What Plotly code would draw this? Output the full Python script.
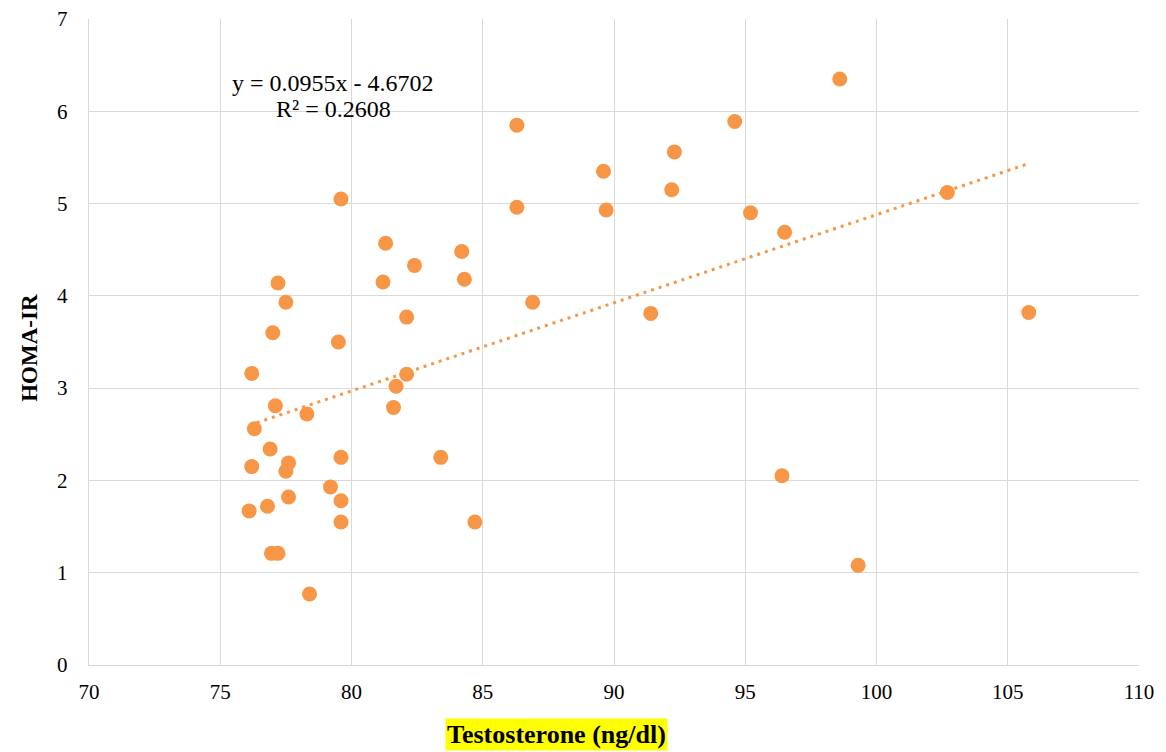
import plotly.graph_objects as go

testosterone = [98.6, 86.3, 94.6, 92.3, 89.6, 92.2, 79.6, 86.3, 89.7, 95.2,
                102.7, 96.5, 81.3, 84.2, 82.4, 81.2, 84.3, 77.2, 77.5, 86.9,
                82.1, 91.4, 105.8, 77.0, 79.5, 76.2, 82.1, 81.7, 77.1, 78.3,
                81.6, 76.3, 76.9, 83.4, 79.6, 77.6, 77.5, 76.2, 96.4, 79.2,
                79.6, 77.6, 76.8, 76.1, 79.6, 84.7, 76.95, 77.2, 99.3, 78.4]
homa_ir = [6.35, 5.85, 5.89, 5.56, 5.35, 5.15, 5.05, 4.96, 4.93, 4.90,
           5.12, 4.69, 4.57, 4.48, 4.33, 4.15, 4.18, 4.14, 3.93, 3.93,
           3.77, 3.81, 3.82, 3.60, 3.50, 3.16, 3.15, 3.02, 2.81, 2.72,
           2.79, 2.56, 2.34, 2.25, 2.25, 2.19, 2.10, 2.15, 2.05, 1.93,
           1.78, 1.82, 1.72, 1.67, 1.55, 1.55, 1.21, 1.21, 1.08, 0.77]

slope = 0.0955
intercept = -4.6702
r_squared = 0.2608

x_ticks = [70, 75, 80, 85, 90, 95, 100, 105, 110]
y_ticks = [0, 1, 2, 3, 4, 5, 6, 7]

orange = "#F79646"
serif = "Liberation Serif, Times New Roman, serif"

x_lo, x_hi = min(testosterone), max(testosterone)
trend_x = [x_lo, x_hi]
trend_y = [slope * v + intercept for v in trend_x]

fig = go.Figure()
fig.add_trace(go.Scatter(
    x=trend_x, y=trend_y, mode="lines",
    line=dict(color=orange, width=3, dash="3px,5px"),
    hoverinfo="skip", showlegend=False,
))
fig.add_trace(go.Scatter(
    x=testosterone, y=homa_ir, mode="markers",
    marker=dict(color=orange, size=15, line=dict(width=0)),
    showlegend=False,
))

fig.add_annotation(
    x=79.3, y=6.31, xref="x", yref="y",
    text=f"y = {slope}x - {abs(intercept):.4f}", showarrow=False,
    font=dict(family=serif, size=24, color="#000000"),
)
fig.add_annotation(
    x=79.3, y=6.02, xref="x", yref="y",
    text=f"R² = {r_squared:.4f}", showarrow=False,
    font=dict(family=serif, size=24, color="#000000"),
)
fig.add_annotation(
    x=0.4448, y=-0.107, xref="paper", yref="paper",
    text="<b>Testosterone (ng/dl)</b>", showarrow=False,
    bgcolor="#FFFF00", borderpad=1,
    xanchor="center", yanchor="middle",
    font=dict(family=serif, size=26, color="#000000"),
)
fig.add_annotation(
    x=-0.0562, y=0.491, xref="paper", yref="paper",
    text="<b>HOMA-IR</b>", showarrow=False, textangle=-90,
    xanchor="center", yanchor="middle",
    font=dict(family=serif, size=23, color="#000000"),
)

fig.update_xaxes(
    range=[70, 110], tickvals=x_ticks, ticktext=[str(t) for t in x_ticks],
    showgrid=True, gridcolor="#D9D9D9", gridwidth=1.4,
    zeroline=False, showline=True, linecolor="#D9D9D9", linewidth=1.4,
    ticks="", ticklabelstandoff=8, automargin=False,
    tickfont=dict(family=serif, size=21, color="#000000"),
)
fig.update_yaxes(
    range=[0, 7], tickvals=y_ticks, ticktext=[str(t) for t in y_ticks],
    showgrid=True, gridcolor="#D9D9D9", gridwidth=1.4,
    zeroline=False, showline=True, linecolor="#D9D9D9", linewidth=1.4,
    ticks="", ticklabelstandoff=16, automargin=False,
    tickfont=dict(family=serif, size=21, color="#000000"),
)

fig.update_layout(
    width=1166, height=752,
    margin=dict(l=89, r=27, t=19, b=87),
    plot_bgcolor="#FFFFFF", paper_bgcolor="#FFFFFF",
    font=dict(family=serif),
)

fig.write_html("out.html", config={"displayModeBar": False},
               post_script="document.body.style.margin='0';")
